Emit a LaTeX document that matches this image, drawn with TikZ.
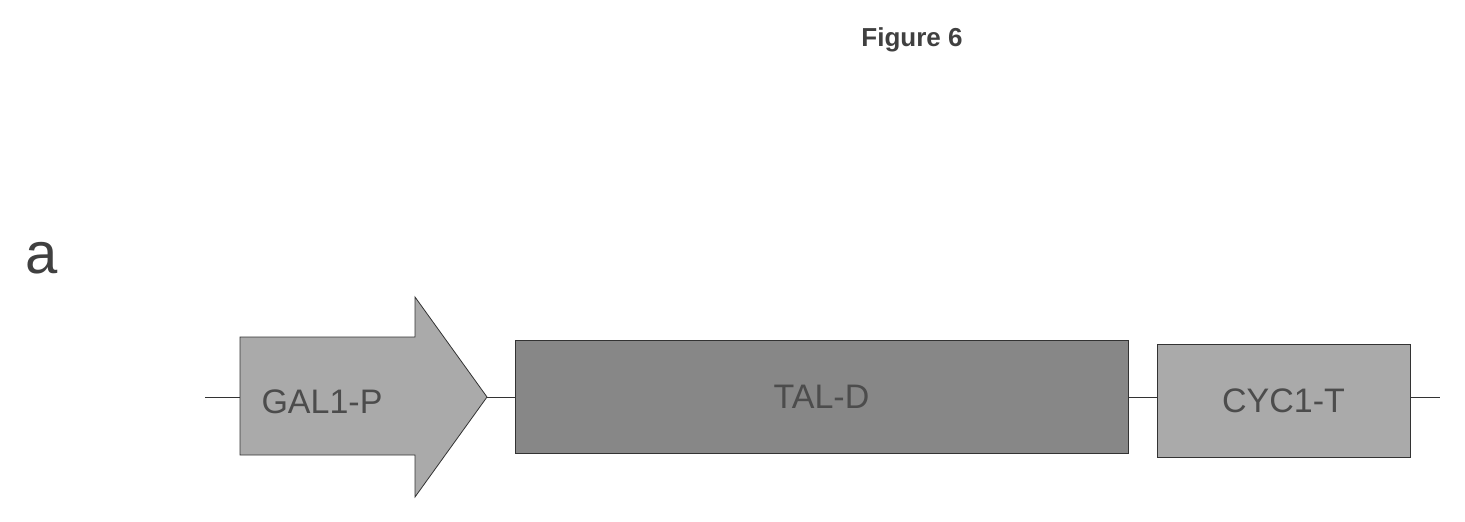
\documentclass[tikz,border=0pt]{standalone}
\usepackage{fontspec}
\setmainfont{Liberation Sans}
\usetikzlibrary{positioning}
\definecolor{lightgr}{RGB}{170,170,170}
\definecolor{darkgr}{RGB}{135,135,135}
\tikzset{part/.style={draw=black!80, thick, rectangle, inner sep=0pt, font=\fontsize{34}{34}\selectfont, text=black!70}}
\begin{document}
\begin{tikzpicture}[x=1pt,y=-1pt]
\useasboundingbox (0,0) rectangle (1465,522);
\node[font=\bfseries\fontsize{26}{26}\selectfont, text=black!75] (title) at (912,40) {Figure 6};
\node[font=\fontsize{58}{58}\selectfont, text=black!75] (lbl) at (42,258) {a};
% backbone
\coordinate (left) at (205,397);
\coordinate (right) at (1440,397);
\draw[thick, black!80] (left) -- (right);
% promoter arrow
\draw[thick, black!80, fill=lightgr] (240,337) -- (415,337) -- (415,297) -- (487,397) -- (415,497) -- (415,455) -- (240,455) -- cycle;
\node[font=\fontsize{34}{34}\selectfont, text=black!70] (gal) at (322,402) {GAL1-P};
\node[part, fill=darkgr, minimum width=613, minimum height=113] (tal) at (821.5,396.5) {TAL-D};
\node[part, fill=lightgr, minimum width=253, minimum height=113] (cyc) at (1283.5,400.5) {CYC1-T};
\end{tikzpicture}
\end{document}
